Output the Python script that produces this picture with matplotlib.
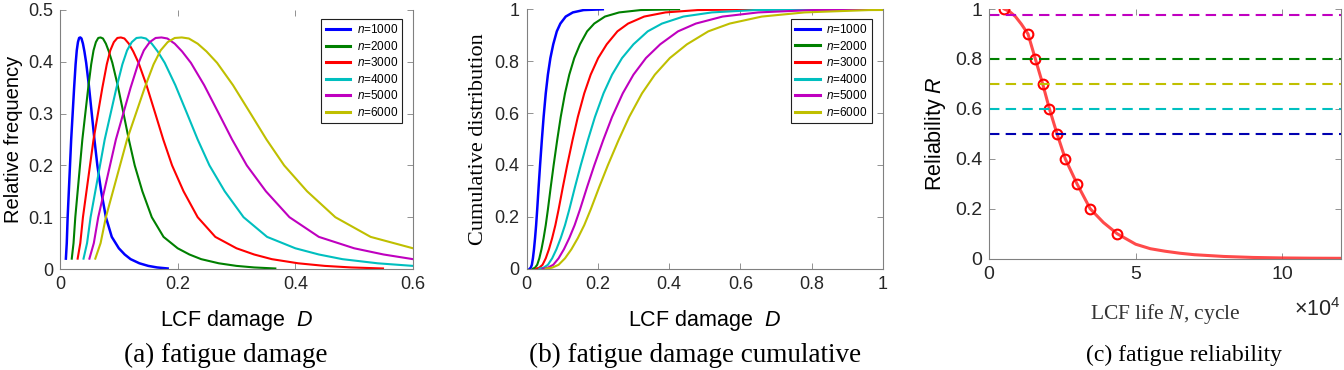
import matplotlib
matplotlib.use('Agg')
import matplotlib.pyplot as plt
from matplotlib.ticker import FuncFormatter

plt.rcParams['font.family'] = ['Liberation Sans', 'DejaVu Sans']
plt.rcParams['mathtext.fontset'] = 'custom'
plt.rcParams['mathtext.rm'] = 'Liberation Sans'
plt.rcParams['mathtext.it'] = 'Liberation Sans:italic'
plt.rcParams['mathtext.cal'] = 'Liberation Serif:italic'

# ---- data ----
series_labels = [r'$n$=1000', r'$n$=2000', r'$n$=3000', r'$n$=4000', r'$n$=5000', r'$n$=6000']
series_colors = ['#0000ff', '#008000', '#ff0000', '#00bfbf', '#bf00bf', '#bfbf00']

# (a) relative frequency (same peak height for every n)
freq = [0.020, 0.050, 0.100, 0.150, 0.200, 0.250, 0.300, 0.350, 0.395, 0.422,
        0.438, 0.446, 0.447, 0.445, 0.435, 0.420, 0.398, 0.355, 0.300, 0.250,
        0.200, 0.150, 0.100, 0.062, 0.040, 0.028, 0.019, 0.011, 0.006, 0.003, 0.001]
damage_1000 = [0.0100, 0.0115, 0.0130, 0.0150, 0.0170, 0.0190, 0.0215, 0.0240, 0.0265, 0.0285,
               0.0305, 0.0325, 0.0345, 0.0365, 0.0390, 0.0415, 0.0445, 0.0490, 0.0540, 0.0585,
               0.0635, 0.0700, 0.0780, 0.0880, 0.1000, 0.1100, 0.1200, 0.1350, 0.1500, 0.1650, 0.1830]
damage_2000 = [0.020, 0.023, 0.026, 0.030, 0.034, 0.038, 0.043, 0.048, 0.053, 0.057,
               0.061, 0.065, 0.069, 0.073, 0.078, 0.083, 0.089, 0.098, 0.108, 0.117,
               0.127, 0.140, 0.156, 0.176, 0.200, 0.220, 0.240, 0.270, 0.300, 0.330, 0.366]
damage_3000 = [0.030, 0.0345, 0.039, 0.045, 0.051, 0.057, 0.0645, 0.072, 0.0795, 0.0855,
               0.0915, 0.0975, 0.1035, 0.1095, 0.117, 0.1245, 0.1335, 0.147, 0.162, 0.1755,
               0.1905, 0.210, 0.234, 0.264, 0.300, 0.330, 0.360, 0.405, 0.450, 0.495, 0.549]
damage_4000 = [0.040, 0.046, 0.052, 0.060, 0.068, 0.076, 0.086, 0.096, 0.106, 0.114,
               0.122, 0.130, 0.138, 0.146, 0.156, 0.166, 0.178, 0.196, 0.216, 0.234,
               0.254, 0.280, 0.312, 0.352, 0.400, 0.440, 0.480, 0.540, 0.600]
damage_5000 = [0.050, 0.0575, 0.065, 0.075, 0.085, 0.095, 0.1075, 0.120, 0.1325, 0.1425,
               0.1525, 0.1625, 0.1725, 0.1825, 0.195, 0.2075, 0.2225, 0.245, 0.270, 0.2925,
               0.3175, 0.350, 0.390, 0.440, 0.500, 0.550, 0.600]
damage_6000 = [0.060, 0.069, 0.078, 0.090, 0.102, 0.114, 0.129, 0.144, 0.159, 0.171,
               0.183, 0.195, 0.207, 0.219, 0.234, 0.249, 0.267, 0.294, 0.324, 0.351,
               0.381, 0.420, 0.468, 0.528, 0.600]

# (b) cumulative distribution
cum = [0.0, 0.004, 0.015, 0.040, 0.075, 0.118, 0.168, 0.228, 0.315, 0.398, 0.495,
       0.585, 0.676, 0.748, 0.812, 0.865, 0.915, 0.945, 0.972, 0.988, 0.997, 1.0]
cdf_1000 = [0.009, 0.012, 0.015, 0.018, 0.021, 0.024, 0.027, 0.030, 0.034, 0.038, 0.043,
            0.048, 0.054, 0.060, 0.067, 0.075, 0.085, 0.095, 0.110, 0.130, 0.160, 0.214]
cdf_2000 = [0.018, 0.024, 0.030, 0.036, 0.042, 0.048, 0.054, 0.060, 0.068, 0.076, 0.086,
            0.096, 0.108, 0.120, 0.134, 0.150, 0.170, 0.190, 0.220, 0.260, 0.320, 0.428]
cdf_3000 = [0.027, 0.036, 0.045, 0.054, 0.063, 0.072, 0.081, 0.090, 0.102, 0.114, 0.129,
            0.144, 0.162, 0.180, 0.201, 0.225, 0.255, 0.285, 0.330, 0.390, 0.480, 0.642]
cdf_4000 = [0.036, 0.048, 0.060, 0.072, 0.084, 0.096, 0.108, 0.120, 0.136, 0.152, 0.172,
            0.192, 0.216, 0.240, 0.268, 0.300, 0.340, 0.380, 0.440, 0.520, 0.640, 0.856]
cdf_5000 = [0.045, 0.060, 0.075, 0.090, 0.105, 0.120, 0.135, 0.150, 0.170, 0.190, 0.215,
            0.240, 0.270, 0.300, 0.335, 0.375, 0.425, 0.475, 0.550, 0.650, 0.800, 1.070]
cdf_6000 = [0.054, 0.072, 0.090, 0.108, 0.126, 0.144, 0.162, 0.180, 0.204, 0.228, 0.258,
            0.288, 0.324, 0.360, 0.402, 0.450, 0.510, 0.570, 0.660, 0.780, 0.960, 1.284]

# (c) reliability vs LCF life (cycles)
life_curve = [5200, 7000, 9000, 11000, 13300, 15800, 18300, 20600, 23200, 26000, 30000,
              34500, 39000, 43700, 50000, 55000, 60000, 65000, 70000, 80000, 90000,
              100000, 110000, 120000]
rel_curve = [1.0, 0.99, 0.97, 0.94, 0.9, 0.8, 0.7, 0.6, 0.5, 0.4, 0.3,
             0.2, 0.145, 0.1, 0.058, 0.040, 0.030, 0.022, 0.016, 0.009, 0.005,
             0.003, 0.002, 0.0015]
life_marks = [5200, 13300, 15800, 18300, 20600, 23200, 26000, 30000, 34500, 43700]
rel_marks = [1.0, 0.9, 0.8, 0.7, 0.6, 0.5, 0.4, 0.3, 0.2, 0.1]
rel_levels = [0.974, 0.8, 0.7, 0.6, 0.5]
level_colors = ['#c000c0', '#008000', '#c0c000', '#00c0c0', '#0000b0']

damage_x = [damage_1000, damage_2000, damage_3000, damage_4000, damage_5000, damage_6000]
cdf_x = [cdf_1000, cdf_2000, cdf_3000, cdf_4000, cdf_5000, cdf_6000]

W, H = 1344, 370
fig = plt.figure(figsize=(W / 100, H / 100), dpi=100)


def box(l, r, t, b):
    return [l / W, (H - b) / H, (r - l) / W, (b - t) / H]


def style(ax, tick_size):
    for s in ['left', 'right', 'bottom']:
        ax.spines[s].set_color('#808080')
        ax.spines[s].set_linewidth(0.8)
    ax.spines['top'].set_visible(False)
    ax.tick_params(direction='in', length=4, width=0.6, color='#808080',
                   top=True, right=True, labelsize=tick_size, labelcolor='#262626', pad=5)


fmt = FuncFormatter(lambda v, p: f'{v:g}')

# (a)
ax1 = fig.add_axes(box(60, 413, 10, 269))
for x, lab, c in zip(damage_x, series_labels, series_colors):
    ax1.plot(x, freq[:len(x)], color=c, lw=1.8 if c == '#0000ff' else 1.5, label=lab)
ax1.set_xlim(0, 0.6)
ax1.set_ylim(0, 0.5)
ax1.set_xticks([0, 0.2, 0.4, 0.6])
ax1.set_yticks([0, 0.1, 0.2, 0.3, 0.4, 0.5])
ax1.xaxis.set_major_formatter(fmt)
ax1.yaxis.set_major_formatter(fmt)
style(ax1, 13)
ax1.set_xlabel('LCF damage  $D$', fontsize=15.5)
ax1.set_ylabel('Relative frequency', fontsize=14.5)
ax1.xaxis.set_label_coords(0.5, -0.151)
ax1.yaxis.set_label_coords(-0.105, 0.5)

# (b)
ax2 = fig.add_axes(box(526.5, 883, 9.3, 268.7))
for x, lab, c in zip(cdf_x, series_labels, series_colors):
    ax2.plot(x, cum, color=c, lw=1.8 if c == '#0000ff' else 1.5, label=lab)
ax2.set_xlim(0, 1)
ax2.set_ylim(0, 1)
ax2.set_xticks([0, 0.2, 0.4, 0.6, 0.8, 1])
ax2.set_yticks([0, 0.2, 0.4, 0.6, 0.8, 1])
ax2.xaxis.set_major_formatter(fmt)
ax2.yaxis.set_major_formatter(fmt)
style(ax2, 13)
ax2.set_xlabel('LCF damage  $D$', fontsize=15.5)
ax2.set_ylabel('Cumulative distribution', fontsize=16, family='Liberation Serif')
ax2.xaxis.set_label_coords(0.5, -0.152)
ax2.yaxis.set_label_coords(-0.108, 0.5)

for ax, anchor in [(ax1, (0.969, 0.965)), (ax2, (0.968, 0.963))]:
    leg = ax.legend(loc='upper right', bbox_to_anchor=anchor, borderaxespad=0,
                    fontsize=8.5, handlelength=2.1, handletextpad=0.55,
                    labelspacing=0.3, borderpad=0.35, fancybox=False, framealpha=1)
    leg.get_frame().set_edgecolor('#202020')
    leg.get_frame().set_linewidth(0.8)
    for h in leg.get_lines():
        h.set_linewidth(2.2)

# (c)
ax3 = fig.add_axes(box(989, 1341, 9, 258.7))
ax3.plot(life_curve, rel_curve, color='#ff2a2a', lw=2.2, alpha=0.85)
ax3.plot(life_marks, rel_marks, 'o', ms=7, mfc='none', mec='#ff0000', mew=1.5)
for lv, c in zip(rel_levels, level_colors):
    ax3.axhline(lv, color=c, lw=1.5, dashes=(5, 3))
ax3.set_xlim(0, 120000)
ax3.set_ylim(0, 1)
ax3.set_xticks([0, 50000, 100000])
ax3.set_yticks([0, 0.2, 0.4, 0.6, 0.8, 1])
ax3.xaxis.set_major_formatter(FuncFormatter(lambda v, p: f'{v / 1e4:g}'))
ax3.yaxis.set_major_formatter(fmt)
style(ax3, 14)
ax3.text(1.0, -0.158, r'$\times10^{4}$', transform=ax3.transAxes, ha='right', va='top',
         fontsize=15.5, color='#262626')
ax3.set_xlabel(r'LCF life $\mathcal{N}$, cycle', fontsize=15.5, family='Liberation Serif', color='#333333')
ax3.set_ylabel('Reliability $R$', fontsize=15.5)
ax3.xaxis.set_label_coords(0.5, -0.172)
ax3.yaxis.set_label_coords(-0.116, 0.5)

# captions
cap_kw = dict(ha='center', va='center', family='Liberation Serif')
fig.text(225.5 / W, 1 - 355 / H, '(a) fatigue damage', fontsize=19.5, **cap_kw)
fig.text(695 / W, 1 - 355 / H, '(b) fatigue damage cumulative', fontsize=19.5, **cap_kw)
fig.text(1184 / W, 1 - 355 / H, '(c) fatigue reliability', fontsize=17, **cap_kw)

fig.savefig('out.png', dpi=100)
